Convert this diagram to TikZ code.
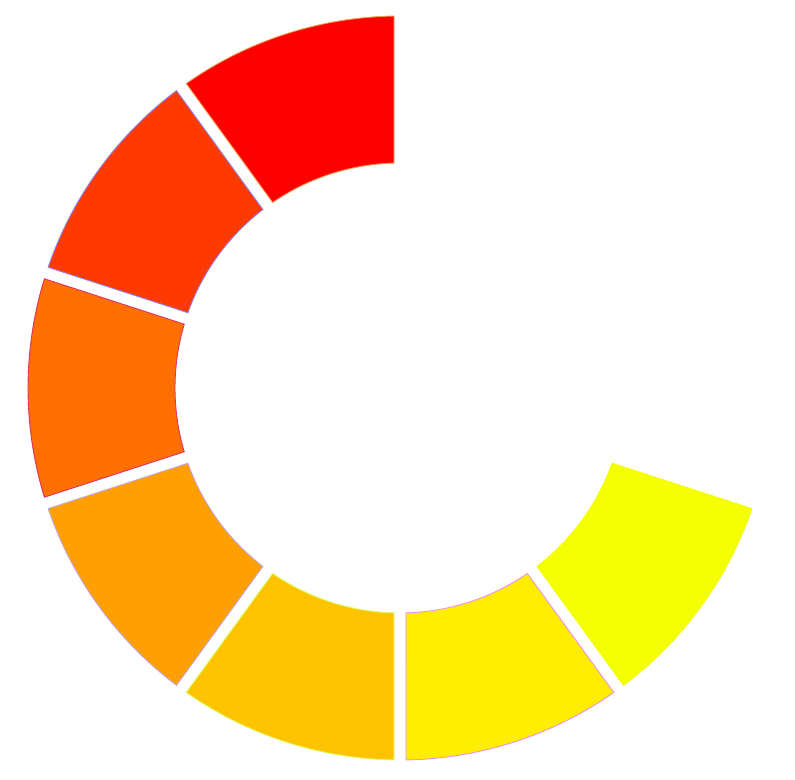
\documentclass[tikz,border=0pt]{standalone}
\usepackage{tikz}
\usetikzlibrary{calc}

\definecolor{sA}{HTML}{FF0000}
\definecolor{sB}{HTML}{FF3A00}
\definecolor{sC}{HTML}{FF7000}
\definecolor{sD}{HTML}{FFA000}
\definecolor{sE}{HTML}{FFC300}
\definecolor{sF}{HTML}{FFEE00}
\definecolor{sG}{HTML}{F4FF00}
\definecolor{bA}{HTML}{F0A050}
\definecolor{bB}{HTML}{8A86F0}
\definecolor{bC}{HTML}{E0306A}
\definecolor{bD}{HTML}{C0A8E8}
\definecolor{bE}{HTML}{D8FF60}
\definecolor{bF}{HTML}{F08CF0}
\definecolor{bG}{HTML}{F4FF00}

\begin{document}
\begin{tikzpicture}[settore/.style={line width=0.5pt, line join=miter}]
    % cornice
    \useasboundingbox (0,0) rectangle (15.9,15.6);

    % centro
    \coordinate (O) at (8.0,7.84);

    % settori
    \begin{scope}[shift={(O)}]
    \foreach \a/\c/\o in {90/sA/bA, 126/sB/bB, 162/sC/bC, 198/sD/bD,
                          234/sE/bE, 270/sF/bF, 306/sG/bG} {
        \draw[settore, fill=\c, draw=\o]
            ({\a+0.924}:7.44) arc[start angle=\a+0.924, end angle=\a+35.076, radius=7.44]
            -- ({\a+34.472}:4.5) arc[start angle=\a+34.472, end angle=\a+1.528, radius=4.5]
            -- cycle;
    }
    \end{scope}
\end{tikzpicture}
\end{document}
